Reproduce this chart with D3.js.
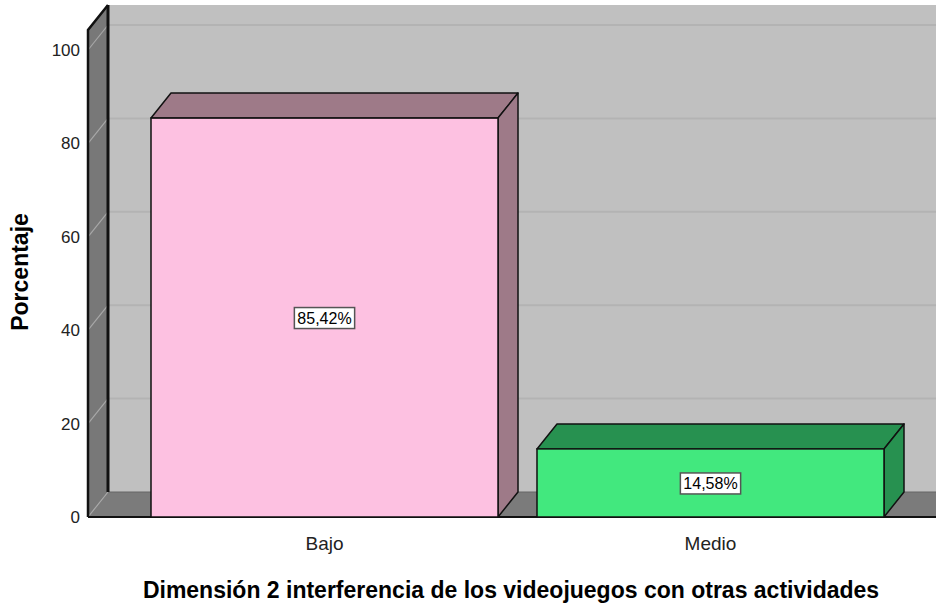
<html>
<head>
    <script src="https://d3js.org/d3.v7.min.js"></script>
    <style>
        body { margin: 0; background: #fff; }
        text { font-family: "Liberation Sans", Arial, sans-serif; }
    </style>
</head>
<body>
    <svg id="svg" width="936" height="607"></svg>
    <script>
        // **** Data ****
        const categories = ['Bajo', 'Medio']
        const values = [85.42, 14.58]
        const valueLabels = ['85,42%', '14,58%']
        const yTicks = [0, 20, 40, 60, 80, 100]
        const frontColors = ['#fdc1e1', '#42e87e']
        const sideColors = ['#9e7a88', '#279150']

        // **** Layout ****
        const W = 936
        const x0 = 88, y0 = 517          // front-left corner of the floor
        const dx = 20, dy = -25          // depth offset
        const topFront = 30
        const svg = d3.select('#svg')

        const y = d3.scaleLinear().domain([0, 100]).range([y0, 50])
        const x = d3.scaleBand().domain(categories).range([151, 884]).paddingInner(0.101)

        // back wall
        svg.append('rect')
            .attr('x', x0 + dx).attr('y', topFront + dy)
            .attr('width', W - x0 - dx).attr('height', y0 - topFront)
            .attr('fill', '#c0c0c0')

        // back wall grid
        svg.selectAll('.grid')
            .data(yTicks.slice(1))
            .enter()
            .append('line')
            .attr('x1', x0 + dx).attr('x2', W)
            .attr('y1', d => y(d) + dy).attr('y2', d => y(d) + dy)
            .attr('stroke', '#b3b3b3').attr('stroke-width', 2)

        // floor
        svg.append('polygon')
            .attr('points', [[x0, y0], [x0 + dx, y0 + dy], [W, y0 + dy], [W, y0]].join(' '))
            .attr('fill', '#7b7b7b')
        svg.append('line')
            .attr('x1', x0 + dx).attr('x2', W).attr('y1', y0 + dy).attr('y2', y0 + dy)
            .attr('stroke', '#666').attr('stroke-width', 1)

        // left wall
        svg.append('polygon')
            .attr('points', [[x0, y0], [x0, topFront], [x0 + dx, topFront + dy], [x0 + dx, y0 + dy]].join(' '))
            .attr('fill', '#787878')

        // diagonal grid on left wall
        svg.selectAll('.wgrid')
            .data(yTicks)
            .enter()
            .append('line')
            .attr('x1', x0).attr('x2', x0 + dx)
            .attr('y1', d => y(d)).attr('y2', d => y(d) + dy)
            .attr('stroke', '#a8a8a8').attr('stroke-width', 1.2)

        // wall edges
        svg.append('line')
            .attr('x1', x0 + dx).attr('x2', x0 + dx).attr('y1', topFront + dy).attr('y2', y0 + dy)
            .attr('stroke', '#111').attr('stroke-width', 3)
        svg.append('polyline')
            .attr('points', [[x0, y0], [x0, topFront], [x0 + dx, topFront + dy]].join(' '))
            .attr('fill', 'none')
            .attr('stroke', '#111').attr('stroke-width', 2.5)
        svg.append('line')
            .attr('x1', x0).attr('x2', W).attr('y1', y0).attr('y2', y0)
            .attr('stroke', '#111').attr('stroke-width', 2)

        // bars
        const bars = svg.selectAll('.bar')
            .data(categories)
            .enter()
            .append('g')

        bars.append('polygon')   // top
            .attr('points', (d, i) => {
                const l = x(d), r = x(d) + x.bandwidth(), t = y(values[i])
                return [[l, t], [l + dx, t + dy], [r + dx, t + dy], [r, t]].join(' ')
            })
            .attr('fill', (d, i) => sideColors[i])
            .attr('stroke', '#111').attr('stroke-width', 1.5).attr('stroke-linejoin', 'round')

        bars.append('polygon')   // side
            .attr('points', (d, i) => {
                const r = x(d) + x.bandwidth(), t = y(values[i])
                return [[r, t], [r + dx, t + dy], [r + dx, y0 + dy], [r, y0]].join(' ')
            })
            .attr('fill', (d, i) => sideColors[i])
            .attr('stroke', '#111').attr('stroke-width', 1.5).attr('stroke-linejoin', 'round')

        bars.append('rect')      // front
            .attr('x', d => x(d))
            .attr('y', (d, i) => y(values[i]))
            .attr('width', x.bandwidth())
            .attr('height', (d, i) => y0 - y(values[i]))
            .attr('fill', (d, i) => frontColors[i])
            .attr('stroke', '#111').attr('stroke-width', 1.5)

        // value labels
        bars.each(function (d, i) {
            const g = d3.select(this)
            const cx = x(d) + x.bandwidth() / 2
            const cy = (y(values[i]) + y0) / 2
            const t = g.append('text')
                .attr('x', cx).attr('y', cy + 6)
                .attr('text-anchor', 'middle')
                .attr('font-size', 16)
                .text(valueLabels[i])
            const bb = t.node().getBBox()
            g.insert('rect', 'text')
                .attr('x', bb.x - 3).attr('y', cy - 10)
                .attr('width', bb.width + 6).attr('height', 21)
                .attr('fill', '#fff').attr('stroke', '#555').attr('stroke-width', 1.5)
        })

        // y tick labels
        svg.selectAll('.ytick')
            .data(yTicks)
            .enter()
            .append('text')
            .attr('x', 80).attr('y', d => y(d) + 6)
            .attr('text-anchor', 'end')
            .attr('font-size', 17)
            .attr('fill', '#222')
            .text(d => d)

        // category labels
        svg.selectAll('.xlab')
            .data(categories)
            .enter()
            .append('text')
            .attr('x', d => x(d) + x.bandwidth() / 2)
            .attr('y', 550)
            .attr('text-anchor', 'middle')
            .attr('font-size', 19)
            .attr('fill', '#222')
            .text(d => d)

        // axis titles
        svg.append('text')
            .attr('transform', 'translate(28,272) rotate(-90)')
            .attr('text-anchor', 'middle')
            .attr('font-size', 23).attr('font-weight', 'bold')
            .text('Porcentaje')

        svg.append('text')
            .attr('x', 511).attr('y', 598)
            .attr('text-anchor', 'middle')
            .attr('font-size', 23).attr('font-weight', 'bold')
            .text('Dimensión 2 interferencia de los videojuegos con otras actividades')
    </script>
</body>
</html>
